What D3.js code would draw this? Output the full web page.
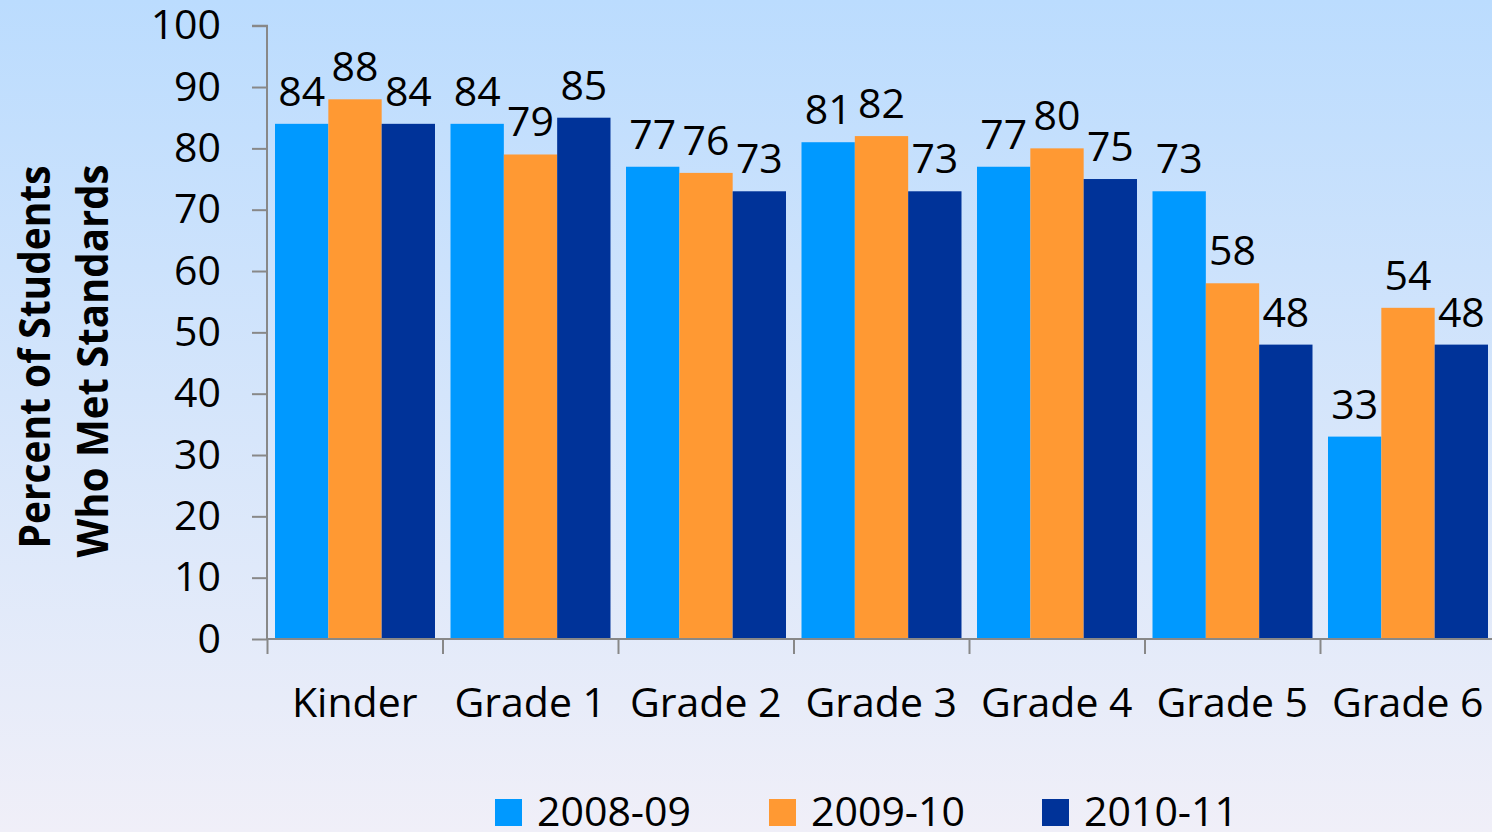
<!DOCTYPE html>
<html lang="en">
<head>
<meta charset="UTF-8">
<title>Percent of Students Who Met Standards</title>
<script src="https://d3js.org/d3.v7.min.js"></script>
<style>
  html, body { margin: 0; padding: 0; }
  body { width: 1492px; height: 832px; overflow: hidden; }
  svg text { font-family: "Open Sans", "Noto Sans", sans-serif; fill: #000; }
</style>
</head>
<body>
<svg id="chart" width="1492" height="832"></svg>
<script>

const categories = ['Kinder', 'Grade 1', 'Grade 2', 'Grade 3', 'Grade 4', 'Grade 5', 'Grade 6'];
const seriesNames = ['2008-09', '2009-10', '2010-11'];
const values0809 = [84, 84, 77, 81, 77, 73, 33];
const values0910 = [88, 79, 76, 82, 80, 58, 54];
const values1011 = [84, 85, 73, 73, 75, 48, 48];
const yTicks = [0, 10, 20, 30, 40, 50, 60, 70, 80, 90, 100];

const colors = ['#0099FF', '#FF9933', '#003399'];
const seriesValues = [values0809, values0910, values1011];

const rows = [];
categories.forEach((c, i) => {
    seriesNames.forEach((s, j) => {
        rows.push({ cat: c, series: s, value: seriesValues[j][i], color: colors[j] });
    });
});

const svg = d3.select('#chart');

// background gradient
const defs = svg.append('defs');
const grad = defs.append('linearGradient').attr('id', 'bg')
    .attr('x1', 0).attr('y1', 0).attr('x2', 0).attr('y2', 1);
grad.append('stop').attr('offset', '0%').attr('stop-color', '#BBDCFE');
grad.append('stop').attr('offset', '100%').attr('stop-color', '#F0EFF8');
svg.append('rect').attr('width', 1492).attr('height', 832).attr('fill', 'url(#bg)');

const left = 267, step = 175.5;
const x = d3.scaleBand().domain(categories).range([left, left + step * 7]);
const xInner = d3.scaleBand().domain(seriesNames).range([8, 168]);
const y = d3.scaleLinear().domain([0, 100]).range([639, 25.7]);

// bars
svg.append('g').selectAll('rect')
    .data(rows)
    .join('rect')
    .attr('x', d => x(d.cat) + xInner(d.series))
    .attr('y', d => y(d.value))
    .attr('width', xInner.bandwidth())
    .attr('height', d => y(0) - y(d.value))
    .attr('fill', d => d.color);

// value labels
svg.append('g').selectAll('text')
    .data(rows)
    .join('text')
    .attr('x', d => x(d.cat) + xInner(d.series) + xInner.bandwidth() / 2)
    .attr('y', d => y(d.value) - 18)
    .attr('text-anchor', 'middle')
    .style('font-size', '41px')
    .text(d => d.value);

// y axis
const yAxis = d3.axisLeft(y).tickValues(yTicks).tickSize(15).tickPadding(31);
const yG = svg.append('g').attr('transform', `translate(${left},0)`).call(yAxis);
yG.select('.domain').attr('stroke', '#888').attr('stroke-width', 2).attr('d', `M-15,${y(100)}H0V${y(0)}`);
yG.selectAll('.tick line').attr('stroke', '#888').attr('stroke-width', 2);
yG.selectAll('.tick text').style('font-size', '41px').style('font-family', '"Open Sans", sans-serif').attr('fill', '#000');

// x axis: boundary ticks
const xEdge = d3.scaleLinear().domain([0, 7]).range([left, left + step * 7]);
const xAxis = d3.axisBottom(xEdge).tickValues(d3.range(0, 7)).tickSize(15).tickFormat('');
const xG = svg.append('g').attr('transform', `translate(0,${y(0)})`).call(xAxis);
xG.select('.domain').attr('stroke', '#888').attr('stroke-width', 2).attr('d', `M${left},0H${left + step * 7}`);
xG.selectAll('.tick line').attr('stroke', '#888').attr('stroke-width', 2);

// category labels
svg.append('g').selectAll('text')
    .data(categories)
    .join('text')
    .attr('x', d => x(d) + x.bandwidth() / 2)
    .attr('y', 717)
    .attr('text-anchor', 'middle')
    .style('font-size', '41px')
    .text(d => d);

// y title
const title = svg.append('g').style('font-weight', 'bold').style('font-size', '43px');
title.append('text')
    .attr('transform', 'translate(50,357) rotate(-90)')
    .attr('text-anchor', 'middle')
    .attr('textLength', 383).attr('lengthAdjust', 'spacingAndGlyphs')
    .text('Percent of Students');
title.append('text')
    .attr('transform', 'translate(108,361) rotate(-90)')
    .attr('text-anchor', 'middle')
    .attr('textLength', 393).attr('lengthAdjust', 'spacingAndGlyphs')
    .text('Who Met Standards');

// legend
const legendX = [495, 769, 1042];
const legend = svg.append('g').selectAll('g')
    .data(seriesNames)
    .join('g')
    .attr('transform', (d, i) => `translate(${legendX[i]},799)`);
legend.append('rect').attr('width', 27).attr('height', 27).attr('fill', (d, i) => colors[i]);
legend.append('text').attr('x', 42).attr('y', 27)
    .style('font-size', '40px')
    .attr('textLength', 154).attr('lengthAdjust', 'spacingAndGlyphs')
    .text(d => d);

</script>
</body>
</html>
